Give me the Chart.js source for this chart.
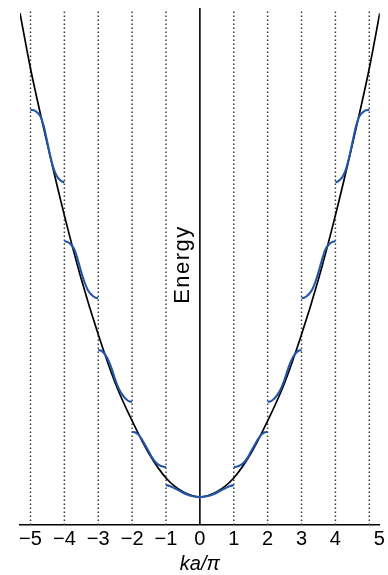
<!DOCTYPE html>
<html>
<head>
<meta charset="utf-8">
<script src="https://cdn.jsdelivr.net/npm/chart.js@4/dist/chart.umd.min.js"></script>
<style>
  html, body { margin: 0; padding: 0; background: #fff; }
  #wrap { width: 388px; height: 575px; }
</style>
</head>
<body>
<div id="wrap"><canvas id="bands"></canvas></div>
<script>
const freeK = [0, 0.5, 1, 1.5, 2, 2.5, 3, 3.5, 4, 4.5, 5, 5.31];
const freeE = [0, 0.3, 1.1, 2.5, 4.4, 6.6, 9.4, 12.6, 16.3, 20.4, 24.8, 28.0];

const band1K = [0, 0.2, 0.4, 0.6, 0.8, 0.9, 1];
const band1E = [0, 0.04, 0.16, 0.36, 0.56, 0.64, 0.69];

const band2K = [1, 1.1, 1.2, 1.3, 1.4, 1.5, 1.6, 1.7, 1.8, 1.9, 2];
const band2E = [1.72, 1.76, 1.85, 2.0, 2.25, 2.6, 2.95, 3.3, 3.58, 3.73, 3.77];

const band3K = [2, 2.1, 2.2, 2.3, 2.4, 2.5, 2.6, 2.7, 2.8, 2.9, 3];
const band3E = [5.5, 5.55, 5.7, 5.95, 6.3, 6.8, 7.4, 7.9, 8.25, 8.45, 8.5];

const band4K = [3, 3.1, 3.2, 3.3, 3.4, 3.5, 3.6, 3.7, 3.8, 3.9, 4];
const band4E = [11.5, 11.55, 11.7, 11.95, 12.4, 13.0, 13.7, 14.3, 14.6, 14.75, 14.8];

const band5K = [4, 4.1, 4.2, 4.3, 4.4, 4.5, 4.6, 4.7, 4.8, 4.9, 5];
const band5E = [18.2, 18.3, 18.5, 18.9, 19.6, 20.5, 21.4, 22.0, 22.25, 22.38, 22.4];

const zoneEdges = [-5, -4, -3, -2, -1, 1, 2, 3, 4, 5];
const tickPos = [-5, -4, -3, -2, -1, 0, 1, 2, 3, 4, 5.3];
const tickLabels = ['\u22125', '\u22124', '\u22123', '\u22122', '\u22121', '0', '1', '2', '3', '4', '5'];

const kMin = -5.31, kMax = 5.31;
const eMin = -1.62, eMax = 28.3, dotTop = 28.1;

const blue = '#2356a8';
const font = '"Liberation Sans", Arial, sans-serif';

function rightSide(ks, es) {
  return ks.map((k, i) => ({x: k, y: es[i]}));
}
function leftSide(ks, es) {
  return ks.map((k, i) => ({x: -k, y: es[i]})).reverse();
}
function bothSides(ks, es) {
  // symmetric curve through 0
  return leftSide(ks, es).concat(rightSide(ks, es).slice(1));
}

function curve(data, color, width, order) {
  return {
    data: data,
    borderColor: color,
    borderWidth: width,
    pointRadius: 0,
    cubicInterpolationMode: 'monotone',
    fill: false,
    order: order
  };
}

const datasets = [];
datasets.push(curve(bothSides(band1K, band1E), blue, 2.1, 0));
[[band2K, band2E], [band3K, band3E], [band4K, band4E], [band5K, band5E]].forEach(b => {
  datasets.push(curve(leftSide(b[0], b[1]), blue, 2.1, 0));
  datasets.push(curve(rightSide(b[0], b[1]), blue, 2.1, 0));
});
datasets.push(curve(bothSides(freeK, freeE), '#000', 1.7, 1));

// k = 0 axis line
datasets.push({
  data: [{x: 0, y: eMin}, {x: 0, y: eMax}],
  borderColor: '#000', borderWidth: 1.6, pointRadius: 0, order: 2
});
// dotted zone boundaries
zoneEdges.forEach(k => {
  datasets.push({
    data: [{x: k, y: eMin}, {x: k, y: dotTop}],
    borderColor: '#3a3a3a', borderWidth: 1.5, borderDash: [1.5, 2.5],
    pointRadius: 0, order: 3
  });
});

const energyLabel = {
  id: 'energyLabel',
  afterDatasetsDraw(chart) {
    const {ctx, chartArea, scales} = chart;
    const x = scales.x.getPixelForValue(0) - 17;
    const y = (chartArea.top + chartArea.bottom) / 2 - 2;
    ctx.save();
    ctx.translate(x, y);
    ctx.rotate(-Math.PI / 2);
    ctx.font = '22px ' + font;
    ctx.letterSpacing = '1.5px';
    ctx.fillStyle = '#000';
    ctx.textAlign = 'center';
    ctx.textBaseline = 'middle';
    ctx.fillText('Energy', 0, 0);
    ctx.restore();
  }
};

const config = {
  type: 'line',
  data: {datasets: datasets},
  options: {
    responsive: true,
    maintainAspectRatio: false,
    animation: false,
    layout: {padding: {left: 20, right: 8, top: 8, bottom: 0}},
    plugins: {
      legend: {display: false},
      tooltip: {enabled: false}
    },
    scales: {
      x: {
        type: 'linear',
        min: kMin,
        max: kMax,
        grid: {display: false, drawTicks: false},
        border: {display: true, color: '#000', width: 1.6},
        afterBuildTicks: (scale) => {
          scale.ticks = tickPos.map(v => ({value: v}));
        },
        ticks: {
          autoSkip: false,
          maxRotation: 0,
          padding: 3,
          color: '#000',
          font: {family: font, size: 20, lineHeight: 1.1},
          callback: (v, i) => tickLabels[i]
        },
        title: {
          display: true,
          text: 'ka/\u03c0',
          color: '#000',
          font: {family: font, size: 20, style: 'italic', lineHeight: 1.1},
          padding: {top: 0, bottom: 0}
        }
      },
      y: {
        type: 'linear',
        display: false,
        min: eMin,
        max: eMax
      }
    }
  },
  plugins: [energyLabel]
};

const myChart = new Chart(document.getElementById('bands'), config);
</script>
</body>
</html>
